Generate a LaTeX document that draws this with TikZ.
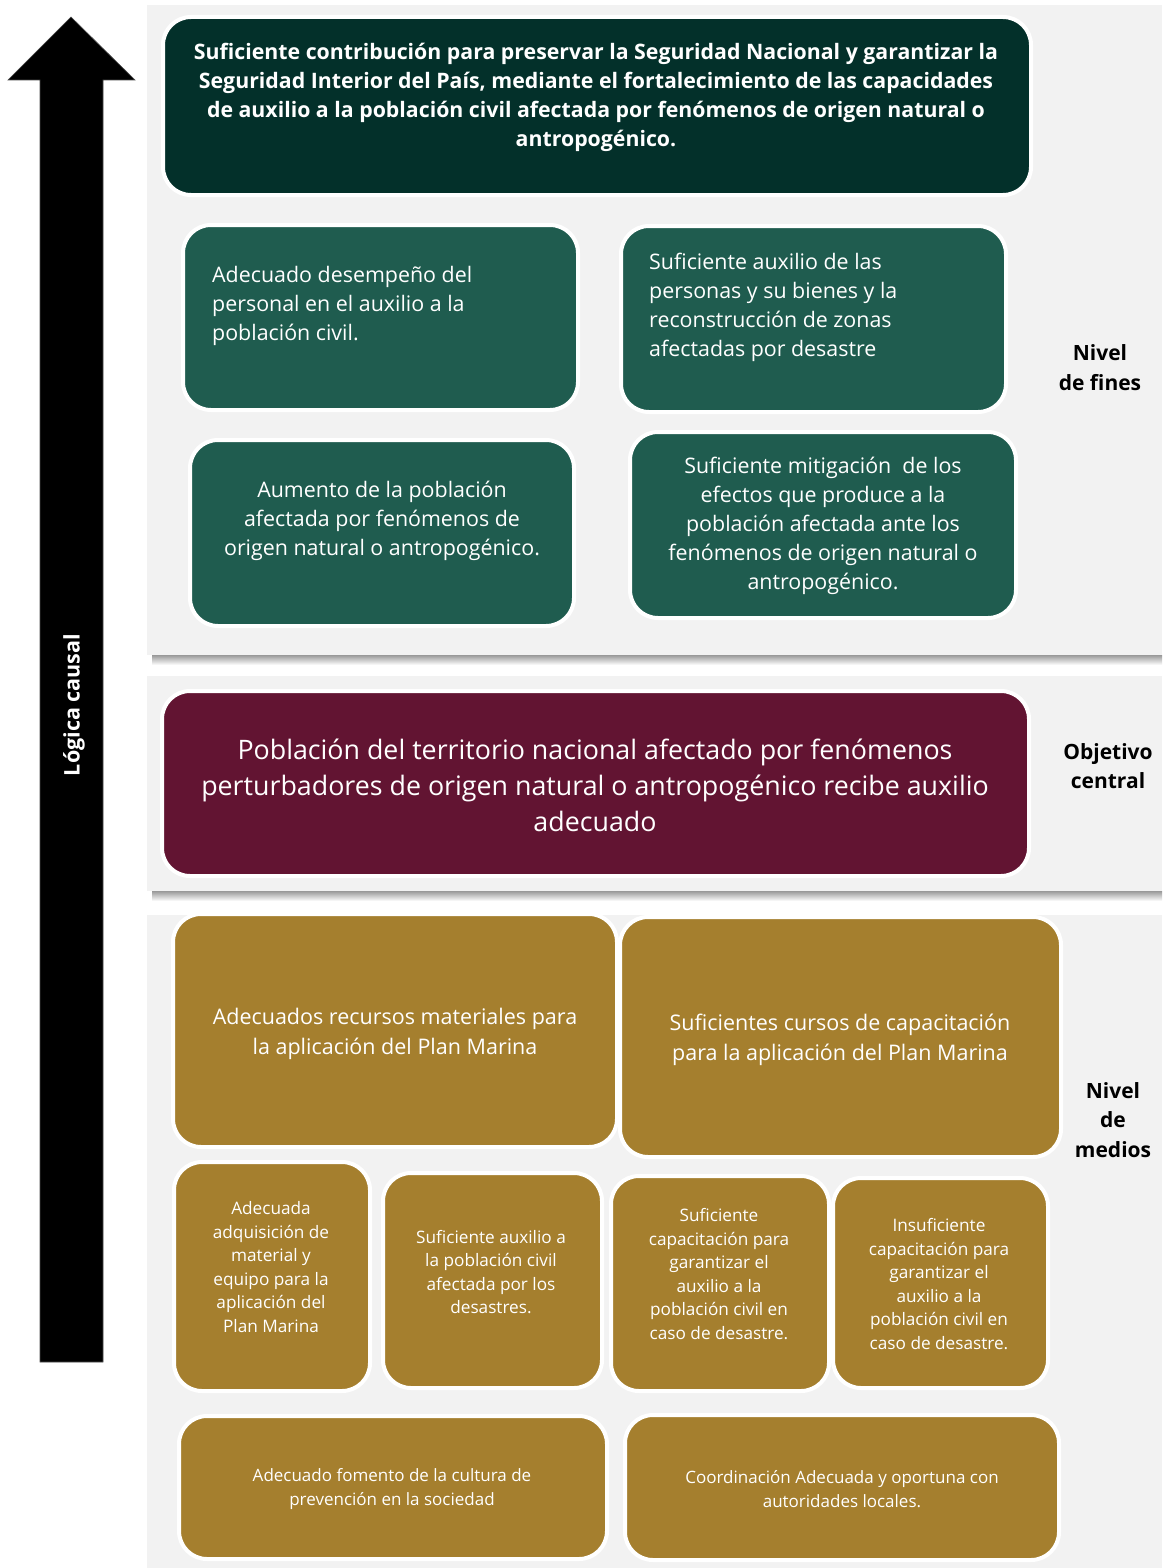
\documentclass[tikz,border=0pt]{standalone}
\usepackage{fontspec}
\setmainfont{Open Sans}
\usetikzlibrary{shadings}
\definecolor{panelgray}{HTML}{F2F2F2}
\definecolor{darkgreen}{HTML}{03302A}
\definecolor{midgreen}{HTML}{1F5C4F}
\definecolor{maroon}{HTML}{621432}
\definecolor{gold}{HTML}{A57F2E}
\tikzset{
  box/.style={draw=white, line width=4pt, rounded corners=28pt, inner sep=0pt, outer sep=0pt},
  panel/.style={fill=panelgray, draw=none},
  txt/.style={text=white, inner sep=0pt, align=center},
  txtl/.style={text=white, inner sep=0pt, align=left, anchor=west},
  side/.style={text=black, inner sep=0pt, align=center, font=\bfseries\fontsize{21}{30}\selectfont},
}
\newcommand{\mybox}[6]{%
  \node[box, fill=#6, minimum width={(#4-#2)*1pt}, minimum height={(#5-#3)*1pt}] (#1) at ({(#2+#4)/2},{(#3+#5)/2}) {};}
\begin{document}
\begin{tikzpicture}[x=1pt,y=-1pt]
\useasboundingbox[fill=white] (0,0) rectangle (1162,1568);
% panels with shadows
\shade[top color=black!40, bottom color=white] (152,655) rectangle (1162,665);
\shade[top color=black!40, bottom color=white] (152,891) rectangle (1162,901);
\fill[panel] (147,5) rectangle (1162,655);
\fill[panel] (147,676) rectangle (1162,891);
\fill[panel] (147,915) rectangle (1162,1568);
% arrow
\fill[black, draw=black!70, line width=0.6pt] (40,1362) -- (40,80) -- (8,80) -- (71,17) -- (135,80) -- (103,80) -- (103,1362) -- cycle;
\node[text=white, inner sep=0pt, rotate=90, font=\bfseries\fontsize{21.5}{26}\selectfont] (logica) at (74,705) {Lógica causal};
% top level
\mybox{top}{163}{17}{1031}{195}{darkgreen}
\node[txt, font=\bfseries\fontsize{21.3}{29}\selectfont] (toptxt) at (596,97) {Suficiente contribución para preservar la Seguridad Nacional y garantizar la\\Seguridad Interior del País, mediante el fortalecimiento de las capacidades\\de auxilio a la población civil afectada por fenómenos de origen natural o\\antropogénico.};
\mybox{fa}{183}{225}{578}{410}{midgreen}
\mybox{fb}{621}{226}{1006}{412}{midgreen}
\mybox{fc}{190}{440}{574}{626}{midgreen}
\mybox{fd}{630}{432}{1016}{618}{midgreen}
\node[txtl, font=\fontsize{21.4}{29}\selectfont] (fatxt) at (212,306) {Adecuado desempeño del\\personal en el auxilio a la\\población civil.};
\node[txtl, font=\fontsize{21.4}{29}\selectfont] (fbtxt) at (649,307) {Suficiente auxilio de las\\personas y su bienes y la\\reconstrucción de zonas\\afectadas por desastre};
\node[txt, font=\fontsize{21.4}{29}\selectfont] (fctxt) at (382,521) {Aumento de la población\\afectada por fenómenos de\\origen natural o antropogénico.};
\node[txt, font=\fontsize{21.4}{29}\selectfont] (fdtxt) at (823,526) {Suficiente mitigación~ de los\\efectos que produce a la\\población afectada ante los\\fenómenos de origen natural o\\antropogénico.};
\node[side] (fines) at (1100,368) {Nivel\\de fines};
% central
\mybox{central}{162}{691}{1029}{876}{maroon}
\node[txt, font=\fontsize{26.8}{36}\selectfont] (centraltxt) at (595,785) {Población del territorio nacional afectado por fenómenos\\perturbadores de origen natural o antropogénico recibe auxilio\\adecuado};
\node[side, font=\bfseries\fontsize{21}{29}\selectfont] (objetivo) at (1108,766) {Objetivo\\central};
% medios
\mybox{ga}{173}{914}{617}{1147}{gold}
\mybox{gb}{620}{917}{1061}{1157}{gold}
\mybox{gc}{174}{1162}{370}{1391}{gold}
\mybox{gd}{383}{1173}{602}{1388}{gold}
\mybox{ge}{611}{1176}{829}{1391}{gold}
\mybox{gf}{833}{1178}{1048}{1388}{gold}
\mybox{gg}{179}{1416}{607}{1559}{gold}
\mybox{gh}{625}{1415}{1059}{1560}{gold}
\node[txt, font=\fontsize{21.5}{30}\selectfont] (gatxt) at (395,1034) {Adecuados recursos materiales para\\la aplicación del Plan Marina};
\node[txt, font=\fontsize{21.5}{29.5}\selectfont] (gbtxt) at (840,1040) {Suficientes cursos de capacitación\\para la aplicación del Plan Marina};
\node[txt, font=\fontsize{17.2}{23.6}\selectfont] (gctxt) at (271,1267) {Adecuada\\adquisición de\\material y\\equipo para la\\aplicación del\\Plan Marina};
\node[txt, font=\fontsize{17.2}{23.6}\selectfont] (gdtxt) at (491,1272) {Suficiente auxilio a\\la población civil\\afectada por los\\desastres.};
\node[txt, font=\fontsize{17.2}{23.6}\selectfont] (getxt) at (719,1274) {Suficiente\\capacitación para\\garantizar el\\auxilio a la\\población civil en\\caso de desastre.};
\node[txt, font=\fontsize{17.2}{23.6}\selectfont] (gftxt) at (939,1284) {Insuficiente\\capacitación para\\garantizar el\\auxilio a la\\población civil en\\caso de desastre.};
\node[txt, font=\fontsize{17}{23.5}\selectfont] (ggtxt) at (392,1489) {Adecuado fomento de la cultura de\\prevención en la sociedad};
\node[txt, font=\fontsize{17}{23.5}\selectfont] (ghtxt) at (842,1489) {Coordinación Adecuada y oportuna con\\autoridades locales.};
\node[side, font=\bfseries\fontsize{21}{29.5}\selectfont] (medios) at (1113,1120) {Nivel\\de\\medios};
\end{tikzpicture}
\end{document}
